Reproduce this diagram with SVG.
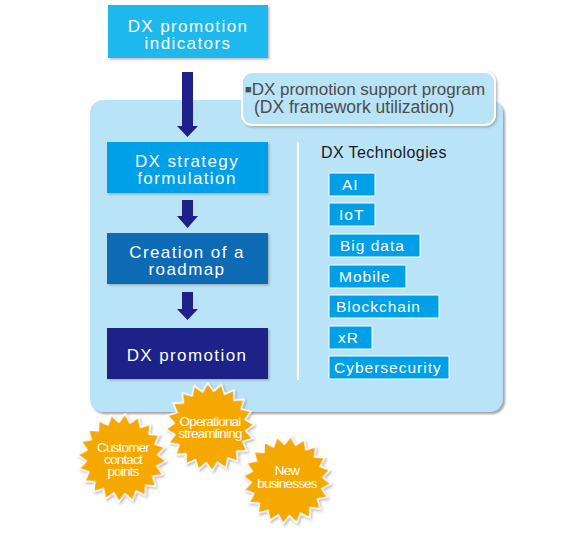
<svg xmlns="http://www.w3.org/2000/svg" xmlns:xlink="http://www.w3.org/1999/xlink" width="584" height="544" viewBox="0 0 584 544">
<style>
.t{font-family:"Liberation Sans",Arial,sans-serif;fill:#fff;text-anchor:middle}
.box{font-size:17px;letter-spacing:1.4px}
.tag{fill:#00a0e9;stroke:#fff;stroke-width:1}
.tagt{font-family:"Liberation Sans",Arial,sans-serif;fill:#fff;font-size:15.5px;letter-spacing:1px}
.star{fill:#f5a800;stroke:#fff;stroke-width:1.5}
.st{font-family:"Liberation Sans",Arial,sans-serif;fill:#fff;text-anchor:middle;font-size:13.5px;letter-spacing:-0.8px}
.arrow{fill:#1d2088}
.sp{font-family:"Liberation Sans",Arial,sans-serif;fill:#4d4d4d}
</style>
<defs>
<filter id="sh" x="-10%" y="-10%" width="130%" height="130%">
<feDropShadow dx="2" dy="2" stdDeviation="1.2" flood-color="#777" flood-opacity="0.7"/>
</filter>
<filter id="sh2" x="-10%" y="-10%" width="130%" height="130%">
<feDropShadow dx="1.5" dy="1.5" stdDeviation="1" flood-color="#888" flood-opacity="0.6"/>
</filter>
<polygon id="starshape" points="0,-44 5.63,-35.56 13.6,-41.85 16.34,-32.08 25.86,-35.6 25.46,-25.46 35.6,-25.86 32.08,-16.34 41.85,-13.6 35.56,-5.63 44,0 35.56,5.63 41.85,13.6 32.08,16.34 35.6,25.86 25.46,25.46 25.86,35.6 16.34,32.08 13.6,41.85 5.63,35.56 0,44 -5.63,35.56 -13.6,41.85 -16.34,32.08 -25.86,35.6 -25.46,25.46 -35.6,25.86 -32.08,16.34 -41.85,13.6 -35.56,5.63 -44,0 -35.56,-5.63 -41.85,-13.6 -32.08,-16.34 -35.6,-25.86 -25.46,-25.46 -25.86,-35.6 -16.34,-32.08 -13.6,-41.85 -5.63,-35.56"/>
</defs>

<g id="panel">
<rect x="90" y="100" width="413" height="312" rx="13" fill="#b9e3f7" filter="url(#sh)"/>
<line x1="298" y1="142" x2="298" y2="380" stroke="#fff" stroke-width="2"/>
</g>

<g id="indicators">
<rect x="108" y="5" width="160" height="53" fill="#1fb8ee" filter="url(#sh2)"/>
<text class="t box" x="188" y="32">DX promotion</text>
<text class="t box" x="188" y="48.5">indicators</text>
</g>

<g id="support-program">
<rect x="242" y="72" width="253" height="53" rx="10" fill="#b9e3f7" stroke="#fff" stroke-width="2" filter="url(#sh2)"/>
<text class="sp" x="245" y="95" font-size="17"><tspan font-size="11" dy="-2">■</tspan><tspan dy="2">DX promotion support program</tspan></text>
<text class="sp" x="254" y="113" font-size="17.5">(DX framework utilization)</text>
</g>

<g id="strategy">
<rect x="107" y="142" width="161" height="51" fill="#00a0e9" filter="url(#sh2)"/>
<text class="t box" x="187" y="167">DX strategy</text>
<text class="t box" x="187" y="183.5">formulation</text>
</g>

<g id="roadmap">
<rect x="107" y="233" width="161" height="51" fill="#106ab5" filter="url(#sh2)"/>
<text class="t box" x="187" y="258">Creation of a</text>
<text class="t box" x="187" y="274.5">roadmap</text>
</g>

<g id="promotion">
<rect x="107" y="328" width="161" height="51" fill="#1d2088" filter="url(#sh2)"/>
<text class="t box" x="187" y="361">DX promotion</text>
</g>

<g id="connectors">
<polygon class="arrow" points="182,72 193,72 193,126 198,126 187.5,137 177,126 182,126"/>
<polygon class="arrow" points="182,200 193,200 193,216 198,216 187.5,228 177,216 182,216"/>
<polygon class="arrow" points="182,292 193,292 193,309 198,309 187.5,320 177,309 182,309"/>
</g>

<g id="technologies">
<text x="321" y="158" font-family="'Liberation Sans',Arial,sans-serif" font-size="16" letter-spacing="0.4" fill="#1a1a1a">DX Technologies</text>
<g id="tag-ai"><rect class="tag" x="329" y="173" width="46" height="23" rx="1.5"/><text class="tagt" x="342" y="190">AI</text></g>
<g id="tag-iot"><rect class="tag" x="329" y="203" width="46" height="23" rx="1.5"/><text class="tagt" x="339" y="220">IoT</text></g>
<g id="tag-bigdata"><rect class="tag" x="329" y="234" width="91" height="23" rx="1.5"/><text class="tagt" x="340" y="251">Big data</text></g>
<g id="tag-mobile"><rect class="tag" x="329" y="265" width="77" height="23" rx="1.5"/><text class="tagt" x="339" y="282">Mobile</text></g>
<g id="tag-blockchain"><rect class="tag" x="329" y="295" width="110" height="23" rx="1.5"/><text class="tagt" x="336" y="312">Blockchain</text></g>
<g id="tag-xr"><rect class="tag" x="329" y="326" width="43" height="23" rx="1.5"/><text class="tagt" x="338" y="343">xR</text></g>
<g id="tag-cyber"><rect class="tag" x="329" y="356" width="120" height="23" rx="1.5"/><text class="tagt" x="334" y="373">Cybersecurity</text></g>
</g>

<g id="star-customer">
<use xlink:href="#starshape" href="#starshape" class="star" transform="translate(122,458) rotate(4)" filter="url(#sh2)"/>
<text class="st" x="123" y="452">Customer</text>
<text class="st" x="123" y="464">contact</text>
<text class="st" x="123" y="476">points</text>
</g>

<g id="star-operational">
<use xlink:href="#starshape" href="#starshape" class="star" transform="translate(210,427) rotate(-3)" filter="url(#sh2)"/>
<text class="st" x="210" y="426">Operational</text>
<text class="st" x="210" y="438">streamlining</text>
</g>

<g id="star-new">
<use xlink:href="#starshape" href="#starshape" class="star" transform="translate(287,480) rotate(5)" filter="url(#sh2)"/>
<text class="st" x="287" y="475">New</text>
<text class="st" x="287" y="488">businesses</text>
</g>
</svg>
